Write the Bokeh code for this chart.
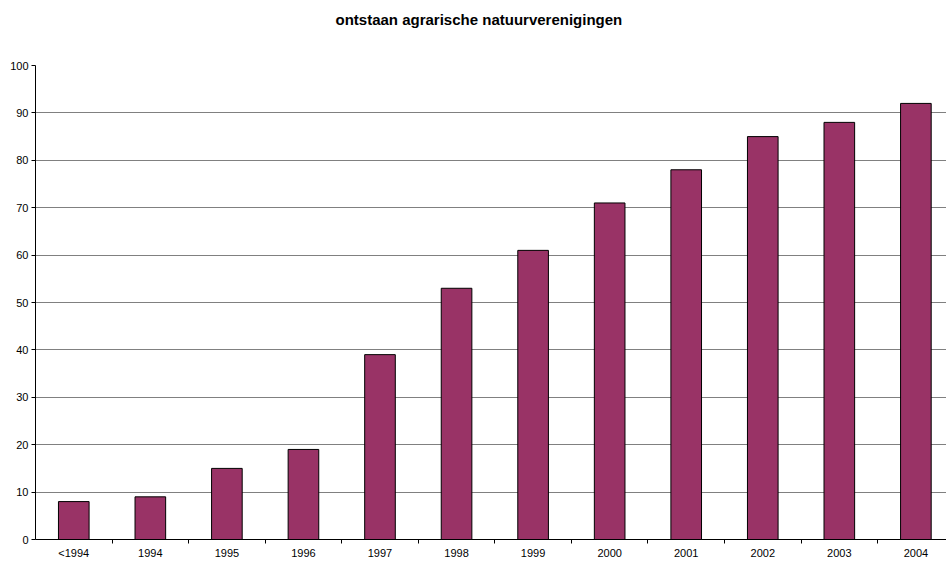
from bokeh.plotting import figure
from bokeh.models import Range1d, FixedTicker, LinearAxis, Grid, Title
from bokeh.embed import file_html
from bokeh.resources import INLINE

categories = ["<1994", "1994", "1995", "1996", "1997", "1998", "1999", "2000", "2001", "2002", "2003", "2004"]
values = [8, 9, 15, 19, 39, 53, 61, 71, 78, 85, 88, 92]
y_ticks = [0, 10, 20, 30, 40, 50, 60, 70, 80, 90, 100]

centers = [i + 0.5 for i in range(len(categories))]
bounds = [i for i in range(1, len(categories))]

p = figure(width=946, height=561, output_backend="svg", toolbar_location=None,
           x_range=Range1d(0, 11.9), y_range=Range1d(0, 100),
           min_border_left=35, min_border_right=0, min_border_top=65, min_border_bottom=21,
           x_axis_type=None, y_axis_type=None)
p.title.text = "ontstaan agrarische natuurverenigingen"
p.title.align = "left"
p.title.offset = 300
p.title.text_font = "Liberation Sans"
p.title.text_font_size = "15px"
p.title.text_font_style = "bold"
p.title.text_color = "black"
# spacer between frame and title
spacer = Title(text=" ", text_font_size="19px")
p.add_layout(spacer, "above")
p.outline_line_color = None

p.vbar(x=centers, top=values, width=0.4, bottom=0, fill_color="#993366", line_color="black", line_width=1)

xa = LinearAxis(ticker=FixedTicker(ticks=centers, minor_ticks=bounds),
                major_label_overrides={c: lab for c, lab in zip(centers, categories)})
xa.major_tick_out = 0
xa.major_tick_in = 0
xa.minor_tick_out = 4
xa.minor_tick_in = 0
xa.minor_tick_line_color = "black"
xa.major_label_standoff = 3
xa.major_label_text_font = "Liberation Sans"
xa.major_label_text_font_size = "11px"
xa.major_label_text_color = "black"
xa.axis_line_color = "black"
p.add_layout(xa, "below")

ya = LinearAxis(ticker=FixedTicker(ticks=y_ticks))
ya.major_tick_out = 4
ya.major_tick_in = 0
ya.minor_tick_line_color = None
ya.major_label_standoff = 3
ya.major_label_text_font = "Liberation Sans"
ya.major_label_text_font_size = "11px"
ya.major_label_text_color = "black"
ya.axis_line_color = "black"
ya.major_tick_line_color = "black"
p.add_layout(ya, "left")

grid = Grid(dimension=1, ticker=FixedTicker(ticks=y_ticks))
grid.grid_line_color = "#808080"
grid.grid_line_width = 1
p.add_layout(grid, "center")

open("out.html", "w").write(file_html(p, INLINE))
